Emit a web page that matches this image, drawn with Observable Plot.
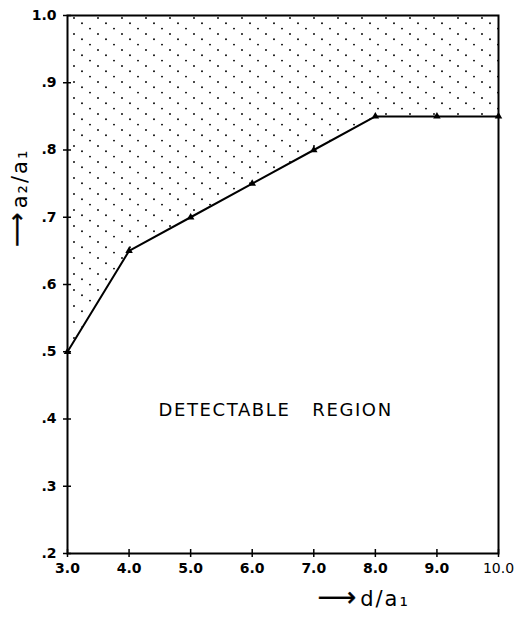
<!DOCTYPE html>
<html>
<head>
<meta charset="utf-8">
<script src="https://cdn.jsdelivr.net/npm/d3@7"></script>
<script src="https://cdn.jsdelivr.net/npm/@observablehq/plot@0.6"></script>
<style>
  html, body { margin: 0; padding: 0; background: #fff; }
  #chart { width: 529px; height: 619px; }
</style>
</head>
<body>
<div id="chart"></div>
<script>
// Data
const dRatio = [3, 4, 5, 6, 7, 8, 9, 10];
const aRatio = [0.50, 0.65, 0.70, 0.75, 0.80, 0.85, 0.85, 0.85];
const xTicks = [3, 4, 5, 6, 7, 8, 9, 10];
const xTickLabels = ["3.0", "4.0", "5.0", "6.0", "7.0", "8.0", "9.0", "10.0"];
const yTicks = [0.2, 0.3, 0.4, 0.5, 0.6, 0.7, 0.8, 0.9, 1.0];
const yTickLabels = [".2", ".3", ".4", ".5", ".6", ".7", ".8", ".9", "1.0"];
const regionLabel = ["DETECTABLE   REGION"];
const regionX = [6.38];
const regionY = [0.413];
const yLabel = "a\u2082/a\u2081";
const xLabel = "d/a\u2081";
const arrowGlyph = "\u27F6";

const data = dRatio.map((d, i) => ({x: d, y: aRatio[i]}));
const regionData = regionLabel.map((t, i) => ({t, x: regionX[i], y: regionY[i]}));

const font = "'DejaVu Sans', 'Liberation Sans', Arial, sans-serif";

const plot = Plot.plot({
  width: 529,
  height: 619,
  marginLeft: 67,
  marginRight: 31,
  marginTop: 15,
  marginBottom: 66,
  style: {fontFamily: font, fontSize: "14px", background: "white", color: "black"},
  x: {domain: [3, 10], ticks: xTicks},
  y: {domain: [0.2, 1.0], ticks: yTicks},
  marks: [
    Plot.areaY(data, {x: "x", y1: "y", y2: 1.0, fill: "url(#stipple)"}),
    Plot.frame({stroke: "black", strokeWidth: 2}),
    Plot.axisX({ticks: xTicks, tickSize: 8, dy: -4, text: null, strokeWidth: 1.5, label: null}),
    Plot.axisX({ticks: xTicks, tickSize: 0, tickPadding: 10,
      tickFormat: d => xTickLabels[xTicks.indexOf(d)],
      fontWeight: "bold", fontSize: 14, label: null}),
    Plot.axisY({ticks: yTicks, tickSize: 8, dx: 4, text: null, strokeWidth: 1.5, label: null}),
    Plot.axisY({ticks: yTicks, tickSize: 0, tickPadding: 11,
      tickFormat: d => yTickLabels[yTicks.findIndex(v => Math.abs(v - d) < 1e-9)],
      fontWeight: "bold", fontSize: 14, label: null}),
    Plot.line(data, {x: "x", y: "y", stroke: "black", strokeWidth: 2}),
    Plot.dot(data, {x: "x", y: "y", symbol: "triangle", r: 2.8, fill: "black"}),
    Plot.text(regionData, {x: "x", y: "y", text: "t", fontSize: 18, fill: "black"}),
    Plot.text([yLabel], {frameAnchor: "left", textAnchor: "middle", rotate: -90, dx: -47, dy: -106, fontSize: 21, fill: "black"}),
    Plot.text([arrowGlyph], {frameAnchor: "left", textAnchor: "middle", rotate: -90, dx: -50, dy: -55, fontSize: 24, fill: "black", stroke: "black", strokeWidth: 0.4}),
    Plot.text([arrowGlyph], {frameAnchor: "bottom", textAnchor: "middle", dx: 54, dy: 52, fontSize: 27, fill: "black", stroke: "black", strokeWidth: 0.4}),
    Plot.text([xLabel], {frameAnchor: "bottom", textAnchor: "middle", dx: 102, dy: 52, fontSize: 21, fill: "black"})
  ]
});

const defs = document.createElementNS("http://www.w3.org/2000/svg", "defs");
defs.innerHTML = `<pattern id="stipple" patternUnits="userSpaceOnUse" width="24" height="16">
  <circle cx="2" cy="2" r="0.95" fill="black"/>
  <circle cx="10" cy="7.3" r="0.95" fill="black"/>
  <circle cx="18" cy="12.6" r="0.95" fill="black"/>
</pattern>`;
plot.insertBefore(defs, plot.firstChild);

// small typographic touches
plot.querySelectorAll("text").forEach(t => {
  const s = t.textContent;
  if (s === regionLabel[0]) { t.style.whiteSpace = "pre"; t.style.letterSpacing = "1.6px"; }
  if (s === yLabel || s === xLabel) { t.style.letterSpacing = "2px"; }
  if (s === "10.0") { t.style.fontWeight = "normal"; }
});

document.getElementById("chart").appendChild(plot);
</script>
</body>
</html>
